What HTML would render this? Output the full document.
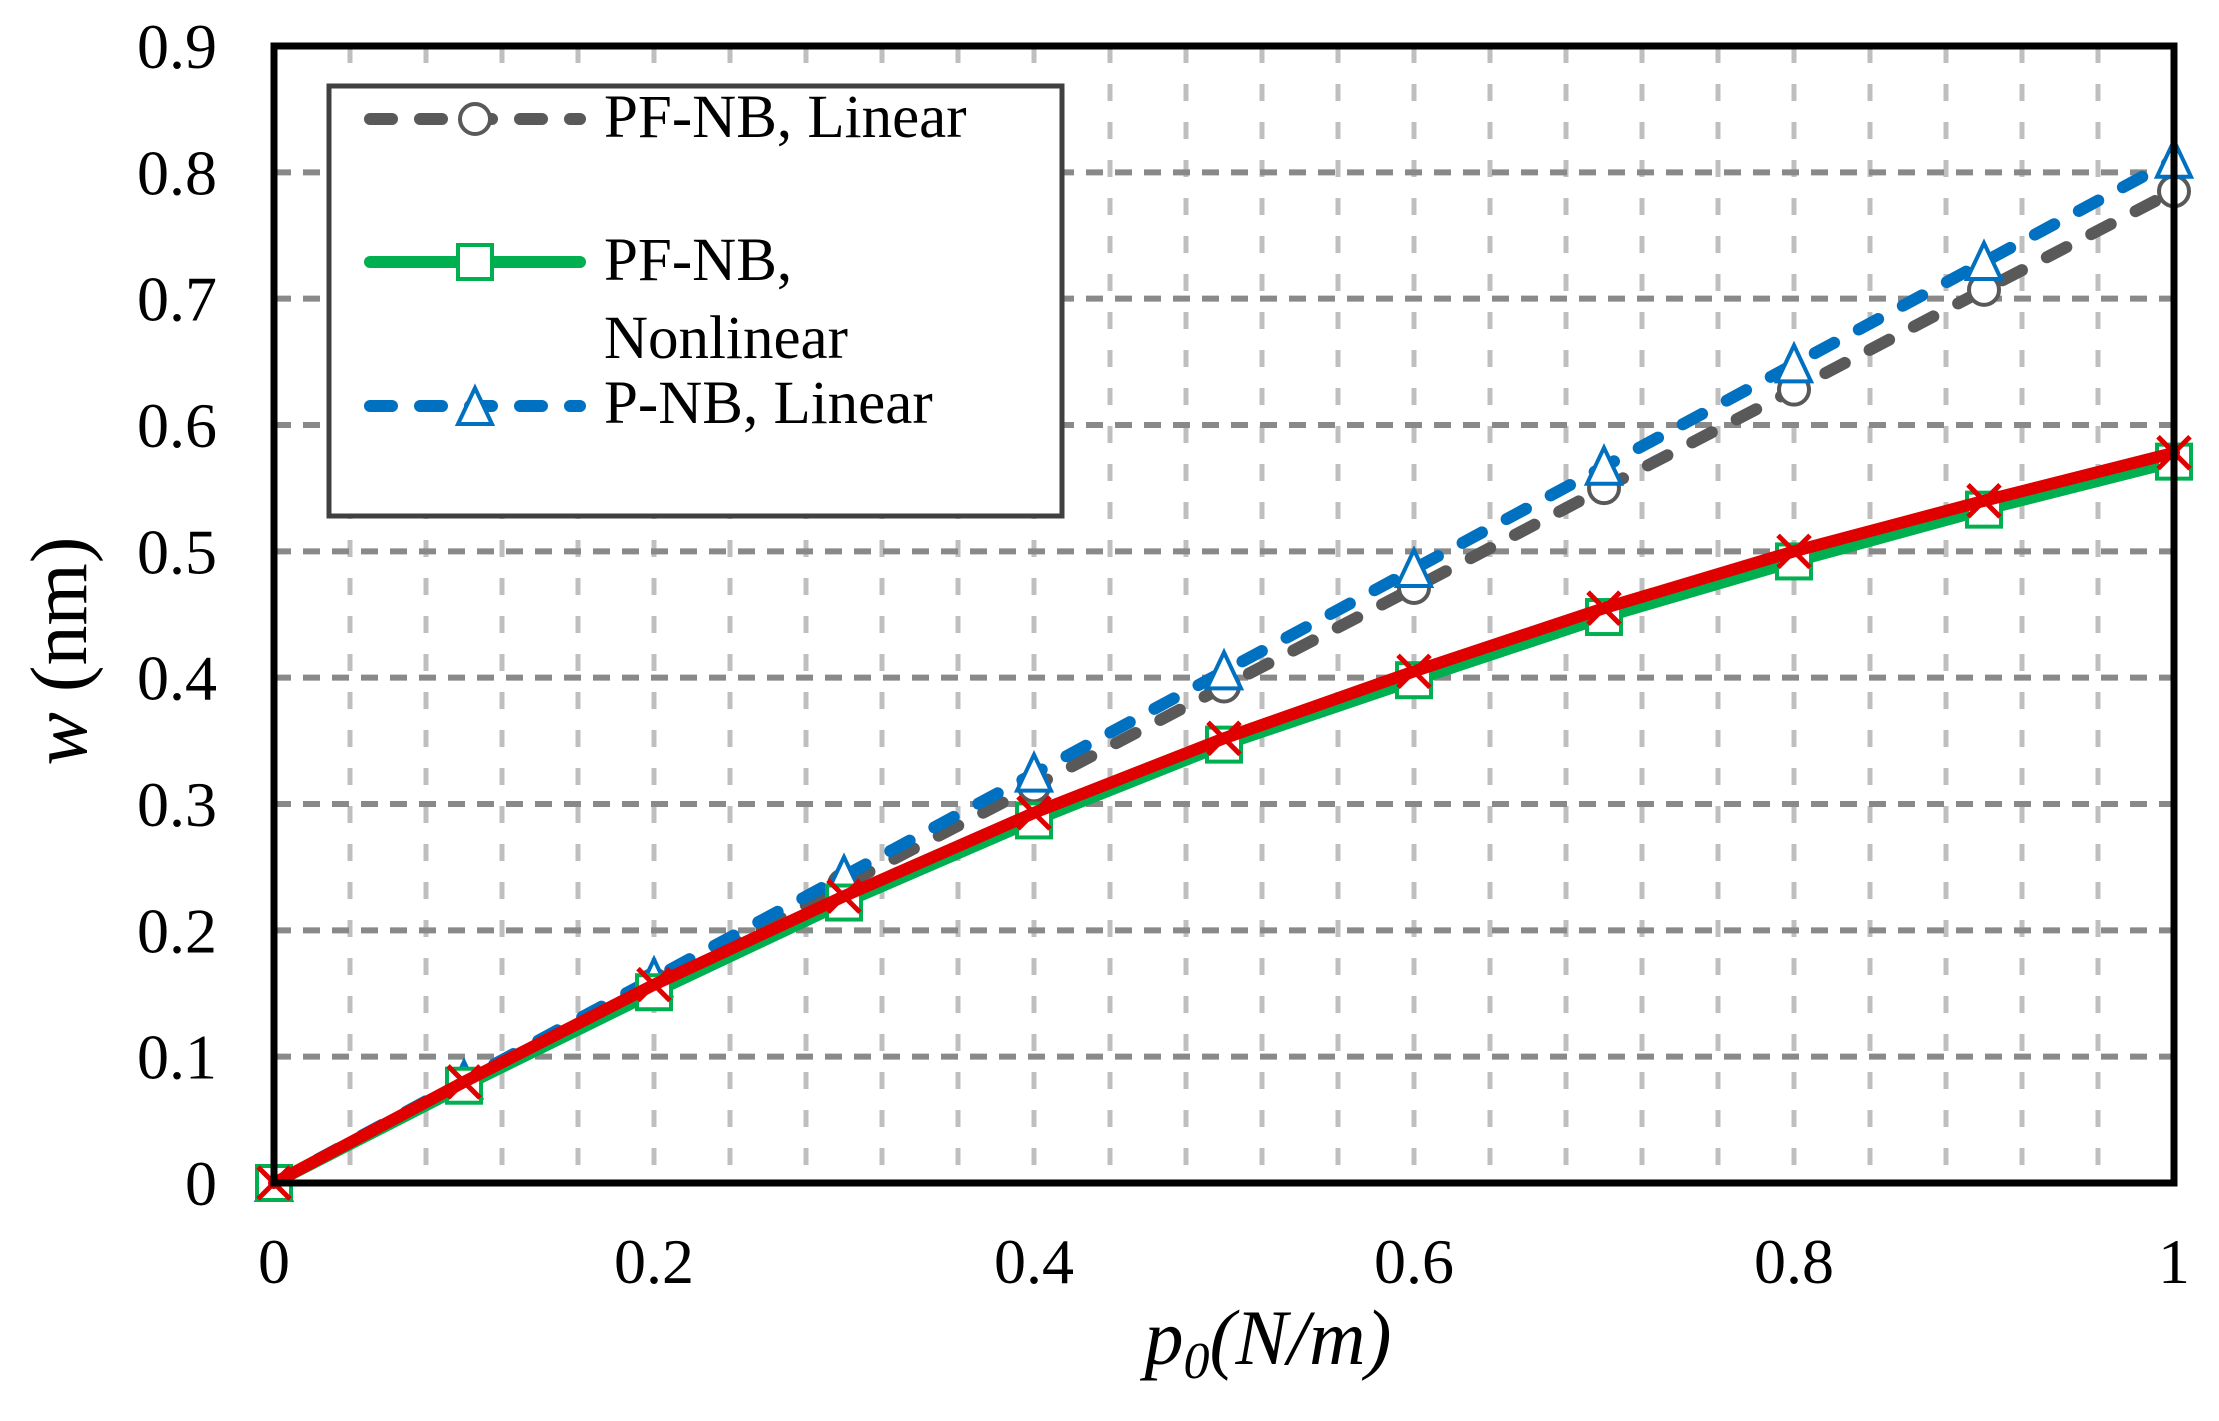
<!DOCTYPE html>
<html><head><meta charset="utf-8"><style>
html,body{margin:0;padding:0;background:#fff;}
svg text{font-family:"Liberation Serif",serif;fill:#000;}
</style></head><body>
<svg id="chart" width="2219" height="1416" viewBox="0 0 2219 1416" xmlns="http://www.w3.org/2000/svg">
<g id="grid"></g>
<g id="series"></g>
<rect x="274" y="46" width="1900" height="1137" fill="none" stroke="#000" stroke-width="7"/>
<g id="ticks"></g>
<text transform="translate(86,651) rotate(-90)" text-anchor="middle" font-size="80"><tspan font-style="italic">w</tspan> (nm)</text>
<text x="1268" y="1364" text-anchor="middle" font-size="78" font-style="italic">p<tspan font-size="52" dy="14">0</tspan><tspan dy="-14">(N/m)</tspan></text>
<g>
<rect x="329" y="86" width="733" height="430" fill="#fff" stroke="#404040" stroke-width="5"/>
<g>
<line x1="370" y1="119" x2="580" y2="119" stroke="#595959" stroke-width="12" stroke-linecap="round" stroke-dasharray="22,28"/>
<circle cx="475" cy="119" r="15" fill="#fff" stroke="#595959" stroke-width="4"/>
<text x="604" y="137" font-size="61">PF-NB, Linear</text></g>
<g>
<line x1="370" y1="262" x2="580" y2="262" stroke="#00b050" stroke-width="12" stroke-linecap="round"/>
<rect x="458" y="245" width="34" height="34" fill="#fff" stroke="#00b050" stroke-width="4"/>
<text x="604" y="280" font-size="61">PF-NB,</text>
<text x="604" y="358" font-size="61">Nonlinear</text></g>
<g>
<line x1="370" y1="406" x2="580" y2="406" stroke="#0070c0" stroke-width="12" stroke-linecap="round" stroke-dasharray="22,28"/>
<polygon points="475,388 458,424 492,424" fill="#fff" stroke="#0070c0" stroke-width="4"/>
<text x="604" y="423" font-size="61">P-NB, Linear</text></g>
</g>
</svg>
<script>
const xCats=[0,0.1,0.2,0.3,0.4,0.5,0.6,0.7,0.8,0.9,1];
const pfnbLinear=[0,0.079,0.157,0.236,0.314,0.393,0.471,0.55,0.628,0.707,0.785];
const pnbLinear=[0,0.081,0.162,0.243,0.324,0.405,0.486,0.567,0.648,0.729,0.81];
const pfnbNonlinear=[0,0.077,0.151,0.222,0.287,0.347,0.398,0.448,0.492,0.533,0.571];
const pnbNonlinear=[0,0.08,0.157,0.227,0.293,0.352,0.405,0.455,0.5,0.54,0.578];
const yTicks=["0","0.1","0.2","0.3","0.4","0.5","0.6","0.7","0.8","0.9"];
const xTicks=["0","0.2","0.4","0.6","0.8","1"];
const NS="http://www.w3.org/2000/svg";
const X0=274,X1=2174,Y0=1183,Y1=46,YMAX=0.9;
function sx(v){return X0+(X1-X0)*v;}
function sy(v){return Y0-(Y0-Y1)*v/YMAX;}
function mk(tag,attrs,parent){const e=document.createElementNS(NS,tag);for(const k in attrs)e.setAttribute(k,attrs[k]);parent.appendChild(e);return e;}
const grid=document.getElementById('grid'),ser=document.getElementById('series'),ticks=document.getElementById('ticks');
for(let i=1;i<25;i++){const x=sx(i*0.04);
 const l=mk('line',{x1:x,x2:x,y1:Y1,y2:Y0,stroke:'#bfbfbf','stroke-width':5,'stroke-dasharray':'17,21'},grid);
 
 }
for(let i=1;i<yTicks.length;i++){const y=sy(+yTicks[i]);
 const l=mk('line',{x1:X0,x2:X1,y1:y,y2:y,stroke:'#898989','stroke-width':6,'stroke-dasharray':'17,12'},grid);
 
 }
yTicks.forEach(t=>{const e=mk('text',{x:217,y:sy(+t)+22,'text-anchor':'end','font-size':64},ticks);e.textContent=t;
 
 });
xTicks.forEach(t=>{const e=mk('text',{x:sx(+t),y:1283,'text-anchor':'middle','font-size':64},ticks);e.textContent=t;
 
 });
function pts(vals){return vals.map((v,i)=>sx(xCats[i])+','+sy(v)).join(' ');}
function drawSeries(name,vals,color,dash,marker){
 const g=mk('g',{},ser);
 
 
 const a={points:pts(vals),fill:'none',stroke:color,'stroke-width':12,'stroke-linecap':'round','stroke-linejoin':'round'};
 if(dash)a['stroke-dasharray']=dash;
 const pl=mk('polyline',a,g);
 
 
 vals.forEach((v,i)=>{const x=sx(xCats[i]),y=sy(v);let m;
  if(marker==='circle')m=mk('circle',{cx:x,cy:y,r:15,fill:'#fff',stroke:color,'stroke-width':4},g);
  else if(marker==='square')m=mk('rect',{x:x-17,y:y-17,width:34,height:34,fill:'#fff',stroke:color,'stroke-width':4},g);
  else if(marker==='triangle')m=mk('polygon',{points:`${x},${y-19} ${x-17},${y+17} ${x+17},${y+17}`,fill:'#fff',stroke:color,'stroke-width':4},g);
  else m=mk('path',{d:`M${x-16},${y-16}L${x+16},${y+16}M${x-16},${y+16}L${x+16},${y-16}`,stroke:color,'stroke-width':5,fill:'none'},g);
  
  });
}
drawSeries('pf-nb-linear',pfnbLinear,'#595959','22,28','circle');
drawSeries('p-nb-linear',pnbLinear,'#0070c0','22,28','triangle');
drawSeries('pf-nb-nonlinear',pfnbNonlinear,'#00b050',null,'square');
drawSeries('p-nb-nonlinear',pnbNonlinear,'#e00000',null,'x');
</script>
</body></html>
